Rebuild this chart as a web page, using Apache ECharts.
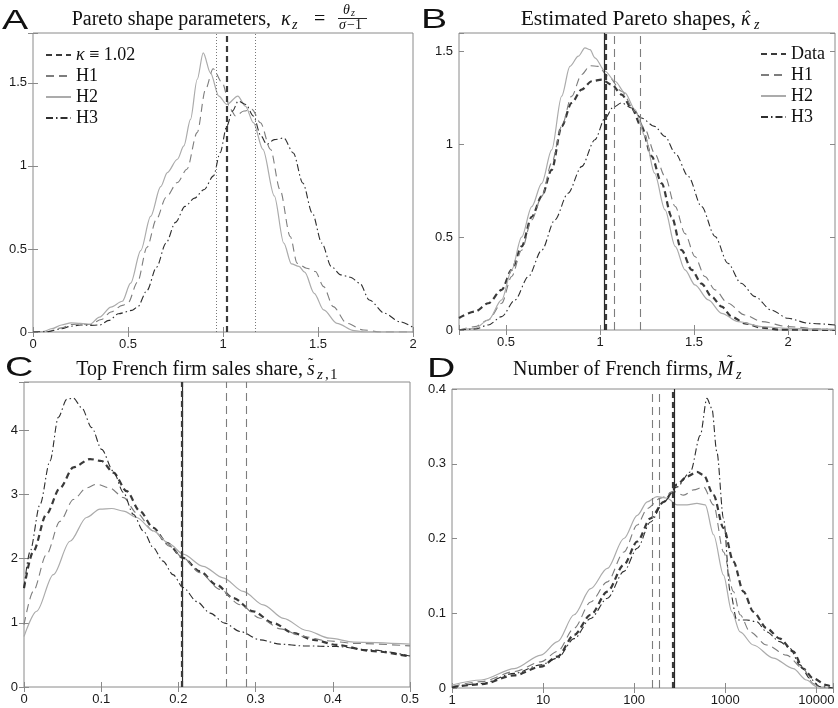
<!DOCTYPE html>
<html>
<head>
<meta charset="utf-8">
<title>Pareto shapes and French firms</title>
<script src="https://cdn.jsdelivr.net/npm/echarts@6/dist/echarts.min.js"></script>
<style>
  html, body { margin: 0; padding: 0; background: #fff; }
  #chart { width: 838px; height: 708px; }
</style>
</head>
<body>
<div id="chart"></div>
<script>
// A: Pareto shape parameters (x = kappa, y = density)
const aH1 = [[0,0],[0.08,0.003],[0.15,0.025],[0.2,0.045],[0.25,0.048],[0.3,0.045],[0.36,0.075],[0.41,0.12],[0.47,0.16],[0.5,0.175],[0.55,0.3],[0.6,0.51],[0.65,0.68],[0.7,0.81],[0.76,0.9],[0.81,0.98],[0.864,1.2],[0.908,1.46],[0.948,1.585],[0.996,1.5],[1.04,1.34],[1.066,1.3],[1.11,1.33],[1.153,1.34],[1.197,1.26],[1.25,1.1],[1.3,0.857],[1.354,0.575],[1.39,0.414],[1.44,0.384],[1.486,0.364],[1.53,0.273],[1.58,0.153],[1.652,0.052],[1.74,0.012],[1.83,0],[2,0]];
const aH2 = [[0,0],[0.05,0.002],[0.1,0.02],[0.15,0.042],[0.2,0.055],[0.25,0.052],[0.3,0.047],[0.35,0.09],[0.41,0.15],[0.47,0.185],[0.514,0.294],[0.567,0.49],[0.619,0.696],[0.672,0.875],[0.707,0.96],[0.76,1.04],[0.794,1.12],[0.829,1.28],[0.864,1.52],[0.896,1.68],[0.934,1.56],[0.978,1.42],[1.02,1.37],[1.078,1.42],[1.118,1.36],[1.16,1.26],[1.21,1.1],[1.27,0.82],[1.32,0.535],[1.36,0.41],[1.4,0.395],[1.43,0.36],[1.48,0.233],[1.53,0.133],[1.6,0.052],[1.69,0.008],[1.75,0],[2,0]];
const aH3 = [[0,0],[0.08,0.002],[0.15,0.02],[0.2,0.035],[0.25,0.042],[0.3,0.04],[0.35,0.042],[0.4,0.07],[0.45,0.11],[0.52,0.13],[0.55,0.15],[0.6,0.25],[0.65,0.39],[0.7,0.535],[0.75,0.66],[0.8,0.756],[0.85,0.806],[0.9,0.857],[0.95,0.94],[0.985,1.08],[1.02,1.24],[1.05,1.33],[1.08,1.39],[1.12,1.37],[1.16,1.3],[1.2,1.18],[1.23,1.13],[1.27,1.158],[1.32,1.168],[1.37,1.078],[1.42,0.897],[1.47,0.716],[1.52,0.535],[1.57,0.394],[1.62,0.344],[1.67,0.33],[1.72,0.294],[1.77,0.193],[1.85,0.113],[1.93,0.062],[2.0,0.028]];
const aKappa = [1.02];
const aDotted = [0.963, 1.168];

// B: estimated Pareto shapes
const bData = [[0.25,0.065],[0.335,0.099],[0.406,0.144],[0.477,0.216],[0.53,0.324],[0.583,0.45],[0.637,0.61],[0.69,0.72],[0.743,0.863],[0.796,1.097],[0.849,1.223],[0.902,1.295],[0.956,1.34],[1.009,1.349],[1.062,1.322],[1.115,1.268],[1.168,1.196],[1.22,1.097],[1.275,0.935],[1.328,0.79],[1.381,0.61],[1.434,0.43],[1.488,0.324],[1.54,0.25],[1.594,0.18],[1.647,0.126],[1.7,0.072],[1.77,0.036],[1.86,0.013],[1.95,0.002],[2.25,0]];
const bH1 = [[0.25,0],[0.335,0.018],[0.406,0.054],[0.477,0.144],[0.53,0.288],[0.583,0.43],[0.637,0.593],[0.69,0.72],[0.743,0.9],[0.796,1.097],[0.849,1.259],[0.902,1.376],[0.947,1.424],[0.99,1.42],[1.044,1.367],[1.115,1.286],[1.186,1.178],[1.24,1.08],[1.29,0.953],[1.346,0.827],[1.4,0.665],[1.452,0.52],[1.505,0.396],[1.558,0.288],[1.612,0.216],[1.68,0.144],[1.77,0.081],[1.86,0.045],[2.0,0.018],[2.18,0.005],[2.25,0.003]];
const bH2 = [[0.25,0],[0.335,0.009],[0.406,0.054],[0.477,0.162],[0.53,0.324],[0.583,0.5],[0.637,0.665],[0.69,0.79],[0.743,0.97],[0.796,1.26],[0.84,1.42],[0.885,1.475],[0.92,1.52],[0.947,1.51],[0.973,1.466],[1.027,1.394],[1.08,1.34],[1.133,1.277],[1.186,1.187],[1.24,1.043],[1.29,0.845],[1.346,0.647],[1.4,0.45],[1.452,0.324],[1.505,0.243],[1.576,0.162],[1.647,0.09],[1.736,0.045],[1.86,0.018],[2.0,0.009],[2.25,0.002]];
const bH3 = [[0.25,0],[0.335,0.005],[0.406,0.027],[0.477,0.072],[0.548,0.162],[0.619,0.288],[0.69,0.43],[0.76,0.593],[0.83,0.737],[0.902,0.88],[0.973,1.025],[1.027,1.142],[1.07,1.2],[1.115,1.223],[1.168,1.196],[1.22,1.142],[1.29,1.097],[1.346,1.043],[1.4,0.953],[1.47,0.827],[1.54,0.665],[1.612,0.504],[1.68,0.36],[1.75,0.252],[1.825,0.18],[1.91,0.108],[2.0,0.063],[2.11,0.036],[2.25,0.027]];
const bSolid = [1.021];
const bDataMean = [1.03];
const bDashed = [1.076, 1.216];

// C: top French firm sales share
const cData = [[0,1.54],[0.012,2.11],[0.029,2.69],[0.0466,3.1],[0.064,3.42],[0.0855,3.55],[0.1006,3.52],[0.1157,3.34],[0.133,3.05],[0.15,2.74],[0.1675,2.48],[0.185,2.245],[0.206,2.01],[0.228,1.8],[0.2496,1.59],[0.271,1.385],[0.297,1.177],[0.323,0.995],[0.349,0.84],[0.375,0.734],[0.405,0.656],[0.448,0.5625],[0.5,0.474]];
const cH1 = [[0,0.97],[0.012,1.49],[0.029,2.06],[0.0466,2.58],[0.064,2.92],[0.081,3.1],[0.094,3.16],[0.111,3.1],[0.129,2.95],[0.146,2.71],[0.1675,2.43],[0.189,2.19],[0.206,2.01],[0.228,1.78],[0.254,1.52],[0.28,1.28],[0.306,1.07],[0.332,0.906],[0.362,0.786],[0.392,0.72],[0.427,0.68],[0.5,0.64]];
const cH2 = [[0,0.786],[0.0164,1.18],[0.038,1.75],[0.0596,2.27],[0.081,2.64],[0.0984,2.77],[0.1136,2.78],[0.129,2.74],[0.146,2.64],[0.1675,2.43],[0.189,2.22],[0.206,2.07],[0.232,1.88],[0.258,1.7],[0.284,1.49],[0.31,1.28],[0.336,1.07],[0.366,0.88],[0.396,0.76],[0.427,0.7],[0.5,0.667]];
const cH3 = [[0,1.54],[0.0078,2.11],[0.0207,2.84],[0.0337,3.52],[0.0445,4.2],[0.0553,4.48],[0.064,4.5],[0.0747,4.35],[0.0877,4.04],[0.1006,3.7],[0.1157,3.36],[0.1287,3.03],[0.1416,2.69],[0.1546,2.43],[0.1675,2.17],[0.18,1.96],[0.193,1.75],[0.206,1.55],[0.224,1.33],[0.241,1.15],[0.26,0.995],[0.28,0.865],[0.306,0.734],[0.332,0.667],[0.362,0.64],[0.405,0.63],[0.448,0.578],[0.5,0.484]];
const cSolid = [0.2055];
const cDataMean = [0.2045];
const cDashed = [0.262, 0.2884];

// D: number of French firms (log x)
const dData = [[1,0.001],[2.09,0.005],[4.84,0.017],[9.47,0.0285],[14.4,0.042],[21.9,0.071],[33.3,0.098],[50.7,0.129],[77.1,0.165],[108,0.196],[151,0.227],[211,0.249],[295,0.272],[380,0.283],[488,0.289],[577,0.285],[743,0.258],[955,0.214],[1228,0.169],[1580,0.129],[2032,0.102],[2843,0.08],[3975,0.066],[5560,0.049],[7150,0.026],[9195,0.013],[12850,0.004],[15200,0.001]];
const dH1 = [[1,0.002],[2.09,0.0085],[4.84,0.022],[9.47,0.035],[14.4,0.049],[21.9,0.08],[33.3,0.115],[50.7,0.142],[77.1,0.182],[108,0.218],[139,0.24],[194,0.254],[271,0.263],[349,0.258],[449,0.265],[577,0.269],[743,0.245],[955,0.182],[1228,0.129],[1452,0.098],[1868,0.075],[2843,0.0575],[4700,0.044],[7150,0.026],[9195,0.006],[10870,0],[15200,0]];
const dH2 = [[1,0.004],[2.09,0.0107],[4.84,0.026],[9.47,0.044],[14.4,0.062],[21.9,0.098],[33.3,0.133],[50.7,0.16],[77.1,0.2],[108,0.231],[139,0.249],[178,0.256],[229,0.254],[295,0.245],[380,0.245],[488,0.247],[602,0.245],[743,0.205],[955,0.151],[1178,0.102],[1452,0.075],[2032,0.0575],[3360,0.04],[5560,0.026],[7775,0.0107],[10000,0.002],[15200,0]];
const dH3 = [[1,0.001],[2.09,0.006],[4.84,0.0196],[9.47,0.031],[14.4,0.04],[21.9,0.066],[33.3,0.093],[50.7,0.12],[77.1,0.156],[108,0.187],[151,0.222],[211,0.249],[295,0.269],[413,0.289],[531,0.338],[628,0.3875],[712,0.374],[807,0.316],[955,0.227],[1130,0.129],[1336,0.091],[1718,0.091],[2209,0.0887],[2843,0.075],[3975,0.062],[5113,0.053],[6575,0.031],[8455,0.013],[10870,0.002],[15200,0]];
const dSolid = [276];
const dDataMean = [267];
const dDashed = [157, 186];

const legendA = ['κ ≡ 1.02', 'H1', 'H2', 'H3'];
const legendB = ['Data', 'H1', 'H2', 'H3'];

const serif = '"Liberation Serif", "DejaVu Serif", serif';
const sans = '"Liberation Sans", Arial, sans-serif';

const styles = {
  data: { color: '#3a3a3a', width: 2.2, type: [6, 4] },
  h1: { color: '#7d7d7d', width: 1.1, type: [8, 5] },
  h2: { color: '#ababab', width: 1.2, type: 'solid' },
  h3: { color: '#2e2e2e', width: 1.1, type: [7, 3, 1.5, 3] },
  solid: { color: '#2a2a2a', width: 1.2, type: 'solid' },
  dotted: { color: '#555', width: 0.8, type: [1, 2] },
};

const grids = [
  { left: 33, top: 33, width: 380, height: 299 },
  { left: 459, top: 33, width: 376, height: 297 },
  { left: 24, top: 382, width: 386, height: 305 },
  { left: 452, top: 389, width: 381, height: 299 },
].map(g => ({ ...g, show: true, borderColor: '#8a8a8a', borderWidth: 1, outerBoundsMode: 'none' }));

const onStep = step => v => (Math.abs(v / step - Math.round(v / step)) < 1e-6 ? String(+v.toFixed(4)) : '');
const onDecade = v => (Math.abs(Math.log10(v) - Math.round(Math.log10(v))) < 1e-6 ? String(Math.round(v)) : '');

const xSpecs = [
  { type: 'value', min: 0, max: 2, interval: 0.5, fmt: onStep(0.5) },
  { type: 'value', min: 0.25, max: 2.25, splitNumber: 4, fmt: onStep(0.5) },
  { type: 'value', min: 0, max: 0.5, interval: 0.1, fmt: onStep(0.1) },
  { type: 'log', logBase: 10, min: 1, max: 15200, fmt: onDecade },
];
const ySpecs = [
  { type: 'value', min: 0, max: 1.8, interval: 0.5, fmt: onStep(0.5) },
  { type: 'value', min: 0, max: 1.6, interval: 0.5, fmt: onStep(0.5) },
  { type: 'value', min: 0, max: 4.75, interval: 1, fmt: onStep(1) },
  { type: 'value', min: 0, max: 0.4, interval: 0.1, fmt: onStep(0.1) },
];

const makeAxis = (spec, g, position, withLabels) => {
  const { fmt, ...rest } = spec;
  return {
    ...rest,
    gridIndex: g,
    position,
    axisLine: { show: false },
    splitLine: { show: false },
    axisTick: { show: true, inside: true, length: 5, lineStyle: { color: '#8a8a8a' } },
    axisLabel: withLabels
      ? { show: true, formatter: fmt, margin: 6, color: '#1a1a1a', fontFamily: sans, fontSize: 13 }
      : { show: false },
  };
};

const xAxes = [];
const yAxes = [];
for (let g = 0; g < 4; g++) {
  xAxes.push(makeAxis(xSpecs[g], g, 'bottom', true), makeAxis(xSpecs[g], g, 'top', false));
  yAxes.push(makeAxis(ySpecs[g], g, 'left', true), makeAxis(ySpecs[g], g, 'right', false));
}

const curve = (g, name, data, style) => ({
  name,
  type: 'line',
  xAxisIndex: 2 * g,
  yAxisIndex: 2 * g,
  data,
  symbol: 'none',
  smooth: 0.3,
  smoothMonotone: 'x',
  color: style.color,
  itemStyle: { opacity: 0 },
  lineStyle: style,
  silent: true,
  z: 3,
});

const vlines = (g, name, values, style) => ({
  name,
  type: 'line',
  xAxisIndex: 2 * g,
  yAxisIndex: 2 * g,
  data: [],
  symbol: 'none',
  color: style.color,
  itemStyle: { opacity: 0 },
  lineStyle: style,
  z: 2,
  markLine: {
    silent: true,
    symbol: 'none',
    precision: 5,
    label: { show: false },
    lineStyle: style,
    emphasis: { disabled: true },
    data: values.map(v => ({ xAxis: v })),
  },
});

const series = [
  vlines(0, 'κ ≡ 1.02', aKappa, styles.data),
  vlines(0, 'a-dotted', aDotted, styles.dotted),
  curve(0, 'H1', aH1, styles.h1),
  curve(0, 'H2', aH2, styles.h2),
  curve(0, 'H3', aH3, styles.h3),

  curve(1, 'Data', bData, styles.data),
  curve(1, 'H1', bH1, styles.h1),
  curve(1, 'H2', bH2, styles.h2),
  curve(1, 'H3', bH3, styles.h3),
  vlines(1, 'b-solid', bSolid, styles.solid),
  vlines(1, 'b-mean', bDataMean, styles.data),
  vlines(1, 'b-dashed', bDashed, styles.h1),

  curve(2, 'Data', cData, styles.data),
  curve(2, 'H1', cH1, styles.h1),
  curve(2, 'H2', cH2, styles.h2),
  curve(2, 'H3', cH3, styles.h3),
  vlines(2, 'c-solid', cSolid, styles.solid),
  vlines(2, 'c-mean', cDataMean, styles.data),
  vlines(2, 'c-dashed', cDashed, styles.h1),

  curve(3, 'Data', dData, styles.data),
  curve(3, 'H1', dH1, styles.h1),
  curve(3, 'H2', dH2, styles.h2),
  curve(3, 'H3', dH3, styles.h3),
  vlines(3, 'd-solid', dSolid, styles.solid),
  vlines(3, 'd-mean', dDataMean, styles.data),
  vlines(3, 'd-dashed', dDashed, styles.h1),
];

const legendBase = {
  orient: 'vertical',
  itemWidth: 25,
  itemHeight: 12,
  itemGap: 3,
  padding: 0,
  selectedMode: false,
  itemStyle: { opacity: 0, borderWidth: 0 },
  textStyle: { fontFamily: serif, fontSize: 18, color: '#111', rich: { i: { fontFamily: serif, fontSize: 18, fontStyle: 'italic', color: '#111' } } },
  formatter: name => (name.startsWith('κ') ? '{i|κ} ≡ 1.02' : name),
};

// title pieces: plain text plus math bits placed by hand
const txt = (text, x, y, size, opts = {}) => ({
  type: 'text',
  x,
  y,
  silent: true,
  scaleX: opts.scaleX || 1,
  style: {
    text,
    font: `${opts.italic ? 'italic ' : ''}${size}px ${opts.family || serif}`,
    fill: '#111',
    align: opts.align || 'left',
    textAlign: opts.align || 'left',
    verticalAlign: 'middle',
    textVerticalAlign: 'middle',
  },
});

const graphic = [
  txt('A', 2, 21.5, 28, { family: sans, scaleX: 1.4 }),
  txt('B', 421, 20, 28, { family: sans, scaleX: 1.4 }),
  txt('C', 5, 368, 28, { family: sans, scaleX: 1.4 }),
  txt('D', 427, 369, 28, { family: sans, scaleX: 1.4 }),

  txt('Pareto shape parameters,', 271, 20, 20, { align: 'right' }),
  txt('κ', 281, 20, 20, { italic: true }),
  txt('z', 292, 25.5, 14, { italic: true }),
  txt('=', 314, 20, 20),
  txt('θ', 343, 10, 14, { italic: true }),
  txt('z', 351, 13.5, 10, { italic: true }),
  { type: 'line', silent: true, shape: { x1: 338, y1: 18.5, x2: 367, y2: 18.5 }, style: { stroke: '#111', lineWidth: 0.9 } },
  txt('σ', 339, 25.5, 14, { italic: true }),
  txt('−1', 347, 25.5, 14),

  txt('Estimated Pareto shapes,', 736, 20, 20, { align: 'right', scaleX: 1.08 }),
  txt('κ', 741, 20, 20, { italic: true }),
  txt('ˆ', 745, 18, 16),
  txt('z', 754, 25.5, 14, { italic: true }),

  txt('Top French firm sales share,', 303, 369.5, 20, { align: 'right' }),
  txt('s', 307, 369.5, 20, { italic: true }),
  txt('˜', 308, 365, 16),
  txt('z', 317, 375, 15, { italic: true }),
  txt(',', 325, 375, 15),
  txt('1', 330, 375, 15),

  txt('Number of French firms,', 713, 369.5, 20, { align: 'right' }),
  txt('M', 717, 369.5, 20, { italic: true }),
  txt('˜', 727, 362, 16),
  txt('z', 736, 375, 14, { italic: true }),
];

const chart = echarts.init(document.getElementById('chart'), null, { renderer: 'canvas' });
chart.setOption({
  backgroundColor: '#ffffff',
  animation: false,
  grid: grids,
  xAxis: xAxes,
  yAxis: yAxes,
  legend: [
    { ...legendBase, left: 45, top: 46, data: legendA },
    { ...legendBase, left: 760, top: 45, data: legendB },
  ],
  graphic,
  series,
});
</script>
</body>
</html>
